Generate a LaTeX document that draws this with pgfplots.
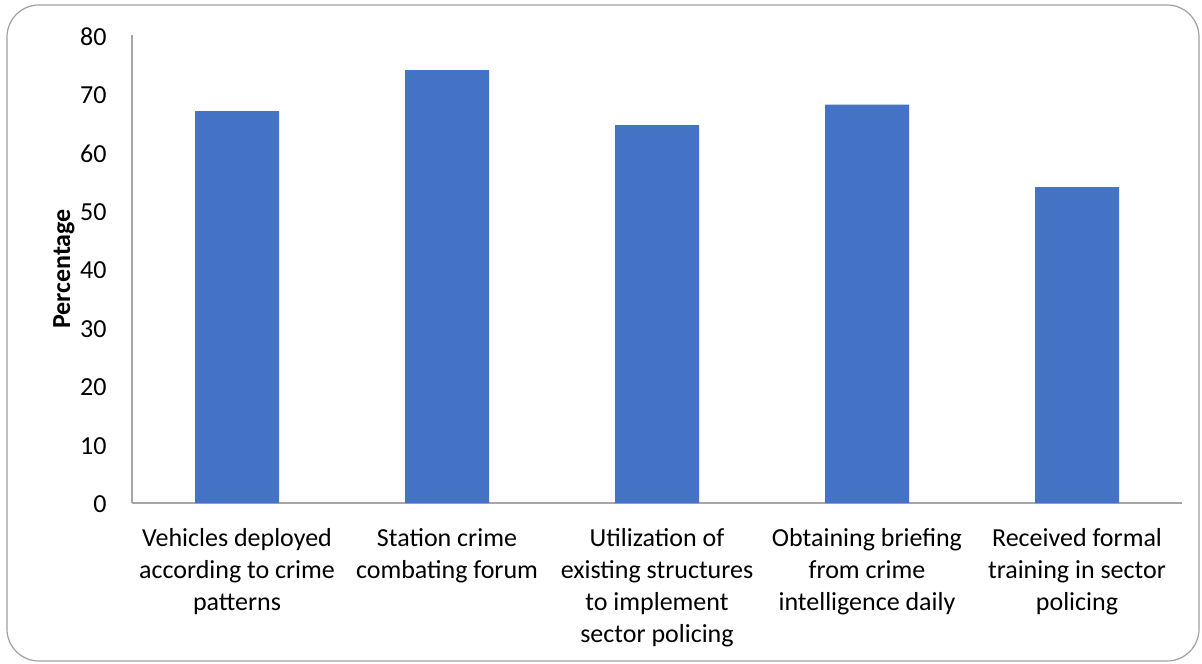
\documentclass[border=0pt]{standalone}
\usepackage{pgfplots}
\pgfplotsset{compat=1.18}
\usepackage{fontspec}
\setmainfont{Carlito}
\definecolor{barblue}{HTML}{4472C4}
\definecolor{axisgray}{HTML}{A6A6A6}
\definecolor{framegray}{HTML}{A0A0A0}
\begin{document}
\begin{tikzpicture}
\useasboundingbox (0,0) rectangle (601pt,331.5pt);
\draw[framegray, line width=0.6pt, rounded corners=16pt] (3.5pt,1pt) rectangle (599.5pt,329pt);
\begin{axis}[
  at={(66pt,80pt)}, anchor=south west,
  scale only axis, width=525pt, height=234pt,
  xmin=-0.5, xmax=4.5, ymin=0, ymax=80,
  ytick={0,10,...,80},
  xtick={0,1,2,3,4},
  xticklabels={
    {Vehicles deployed\\according to crime\\patterns},
    {Station crime\\combating forum},
    {Utilization of\\existing structures\\to implement\\sector policing},
    {Obtaining briefing\\from crime\\intelligence daily},
    {Received formal\\training in sector\\policing}},
  axis x line*=bottom, axis y line*=left,
  axis line style={axisgray, line width=0.6pt, -},
  major tick length=0pt,
  /pgf/number format/assume math mode=true,
  yticklabel style={font=\fontsize{13}{16}\selectfont, inner sep=0pt, xshift=-12.5pt, yshift=-0.8pt},
  xticklabel style={font=\fontsize{13}{16}\selectfont, align=center, inner sep=0pt, anchor=north, yshift=-12.5pt},
  ylabel={Percentage},
  every axis y label/.append style={at={(axis description cs:0,0.5)}, anchor=center, rotate=0, yshift=34pt, font=\bfseries\fontsize{13}{15}\selectfont},
  clip=false,
]
\addplot[ybar, bar width=42pt, fill=barblue, draw=none] coordinates {
  (0,67) (1,74) (2,64.6) (3,68.1) (4,54)
};
\end{axis}
\end{tikzpicture}
\end{document}
